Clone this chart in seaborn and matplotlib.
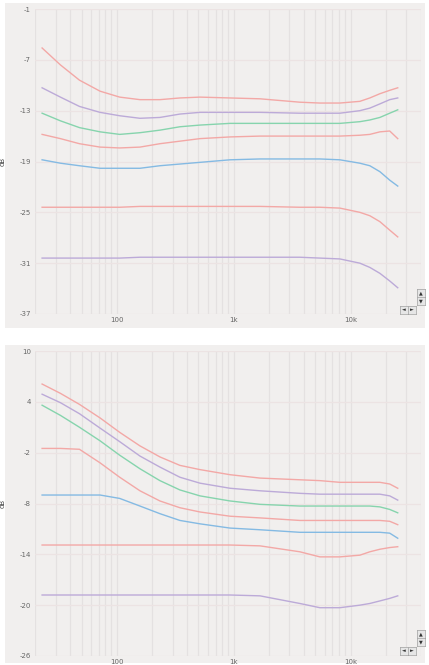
import numpy as np
import pandas as pd
import matplotlib
matplotlib.use("Agg")
import matplotlib.pyplot as plt
from matplotlib.ticker import FixedLocator, LogLocator, NullFormatter
import seaborn as sns

# frequency points shared by every curve (Hz)
freqs = [23, 33, 48, 72, 106, 158, 234, 347, 515, 930, 1680, 3680, 5460,
         8090, 12000, 14600, 17800, 21600, 25300]

# top panel curves (dB), top to bottom
top_1 = [-5.6, -7.6, -9.4, -10.7, -11.4, -11.7, -11.7, -11.5, -11.4, -11.5, -11.6,
         -12.0, -12.1, -12.1, -11.9, -11.5, -11.0, -10.6, -10.3]
top_2 = [-10.3, -11.4, -12.5, -13.2, -13.6, -13.9, -13.8, -13.4, -13.2, -13.2, -13.2,
         -13.3, -13.3, -13.3, -13.0, -12.7, -12.2, -11.7, -11.5]
top_3 = [-13.3, -14.2, -15.0, -15.5, -15.8, -15.6, -15.3, -14.9, -14.7, -14.5, -14.5,
         -14.5, -14.5, -14.5, -14.3, -14.1, -13.8, -13.3, -12.9]
top_4 = [-15.8, -16.3, -16.9, -17.3, -17.4, -17.3, -16.9, -16.6, -16.3, -16.1, -16.0,
         -16.0, -16.0, -16.0, -15.9, -15.8, -15.5, -15.4, -16.3]
top_5 = [-18.8, -19.2, -19.5, -19.8, -19.8, -19.8, -19.5, -19.3, -19.1, -18.8, -18.7,
         -18.7, -18.7, -18.8, -19.2, -19.5, -20.2, -21.2, -21.9]
top_6 = [-24.4, -24.4, -24.4, -24.4, -24.4, -24.3, -24.3, -24.3, -24.3, -24.3, -24.3,
         -24.4, -24.4, -24.5, -25.0, -25.4, -26.1, -27.1, -27.9]
top_7 = [-30.4, -30.4, -30.4, -30.4, -30.4, -30.3, -30.3, -30.3, -30.3, -30.3, -30.3,
         -30.3, -30.4, -30.5, -31.0, -31.5, -32.2, -33.1, -33.9]

# bottom panel curves (dB), top to bottom
bot_1 = [6.1, 5.0, 3.7, 2.1, 0.4, -1.2, -2.5, -3.5, -4.0, -4.6, -5.0,
         -5.2, -5.3, -5.5, -5.5, -5.5, -5.5, -5.7, -6.2]
bot_2 = [4.9, 3.9, 2.6, 0.9, -0.7, -2.4, -3.7, -4.9, -5.6, -6.2, -6.5,
         -6.8, -6.9, -6.9, -6.9, -6.9, -6.9, -7.1, -7.6]
bot_3 = [3.6, 2.4, 1.0, -0.6, -2.3, -3.9, -5.3, -6.4, -7.1, -7.7, -8.1,
         -8.3, -8.3, -8.3, -8.3, -8.3, -8.4, -8.7, -9.1]
bot_4 = [-1.5, -1.5, -1.6, -3.2, -4.9, -6.5, -7.7, -8.5, -9.0, -9.5, -9.7,
         -10.0, -10.0, -10.0, -10.0, -10.0, -10.0, -10.1, -10.5]
bot_5 = [-7.0, -7.0, -7.0, -7.0, -7.4, -8.3, -9.2, -10.0, -10.4, -10.9, -11.1,
         -11.4, -11.4, -11.4, -11.4, -11.4, -11.4, -11.5, -12.1]
bot_6 = [-12.9, -12.9, -12.9, -12.9, -12.9, -12.9, -12.9, -12.9, -12.9, -12.9, -13.0,
         -13.7, -14.3, -14.3, -14.1, -13.7, -13.4, -13.2, -13.1]
bot_7 = [-18.8, -18.8, -18.8, -18.8, -18.8, -18.8, -18.8, -18.8, -18.8, -18.8, -18.9,
         -19.8, -20.3, -20.3, -20.0, -19.8, -19.5, -19.2, -18.9]

top_ticks = [-37, -31, -25, -19, -13, -7, -1]
bot_ticks = [-26, -20, -14, -8, -2, 4, 10]
x_ticks = [100, 1000, 10000]
x_labels = ["100", "1k", "10k"]

salmon, lavender, green, blue = "#f3a8a6", "#bcaad8", "#86d4ad", "#84bae3"
line_colors = [salmon, lavender, green, salmon, blue, salmon, lavender]

BG = "#f1efee"
GRID = "#e4e1e1"
TXT = "#666666"

W, H = 429, 665
fig = plt.figure(figsize=(W / 100, H / 100), dpi=100)
fig.patch.set_facecolor("white")


def px_axes(left, right, top, bottom):
    return fig.add_axes([left / W, 1 - bottom / H, (right - left) / W, (bottom - top) / H])


def nav_button(x, y, label):
    ax = fig.add_axes([(x - 4) / W, 1 - (y + 4) / H, 8 / W, 8 / H])
    ax.set_facecolor("#e6e6e6")
    ax.set_xticks([])
    ax.set_yticks([])
    for s in ax.spines.values():
        s.set_edgecolor("#a0a0a0")
        s.set_linewidth(0.5)
    ax.text(0.5, 0.5, label, fontsize=3.5, ha="center", va="center",
            color="#333333", transform=ax.transAxes)


def panel(series, ticks, ax_box, bg_box, nav_y):
    # grey panel behind the axes
    bg = px_axes(*bg_box)
    bg.set_facecolor(BG)
    bg.set_xticks([])
    bg.set_yticks([])
    for s in bg.spines.values():
        s.set_visible(False)

    ax = px_axes(*ax_box)
    ax.set_facecolor(BG)

    frames = []
    for i, vals in enumerate(series):
        frames.append(pd.DataFrame({"freq": freqs, "db": vals, "curve": f"c{i}"}))
    df = pd.concat(frames, ignore_index=True)
    sns.lineplot(data=df, x="freq", y="db", hue="curve", palette=line_colors,
                 linewidth=1.0, legend=False, ax=ax, zorder=3)

    ax.set_xscale("log")
    ax.set_xlim(20, 40000)
    ax.set_ylim(ticks[0], ticks[-1])
    ax.xaxis.set_major_locator(FixedLocator(x_ticks))
    ax.set_xticklabels(x_labels)
    ax.xaxis.set_minor_locator(LogLocator(base=10, subs=np.arange(2, 10)))
    ax.xaxis.set_minor_formatter(NullFormatter())
    ax.set_yticks(ticks)
    ax.set_yticklabels([str(t) for t in ticks])
    ax.grid(True, which="both", axis="x", color=GRID, lw=0.9)
    ax.grid(True, which="major", axis="y", color="#ece3e3", lw=0.9)
    ax.tick_params(axis="both", which="both", length=0, labelsize=5, colors=TXT, pad=3)
    ax.tick_params(axis="x", pad=2)
    for s in ax.spines.values():
        s.set_visible(False)
    ax.set_xlabel("")
    ax.set_ylabel("dB", fontsize=5, color="#444444", labelpad=10)

    # little navigation buttons in the lower right corner
    nav_button(421, nav_y - 17, "▲")
    nav_button(421, nav_y - 9, "▼")
    nav_button(404, nav_y, "◄")
    nav_button(412, nav_y, "►")
    return ax


panel([top_1, top_2, top_3, top_4, top_5, top_6, top_7], top_ticks,
      (35, 421, 9, 314), (5, 425, 3, 328), 310)
panel([bot_1, bot_2, bot_3, bot_4, bot_5, bot_6, bot_7], bot_ticks,
      (35, 421, 351, 656), (5, 425, 345, 663), 651)

fig.savefig("out.png", dpi=100, facecolor="white")
